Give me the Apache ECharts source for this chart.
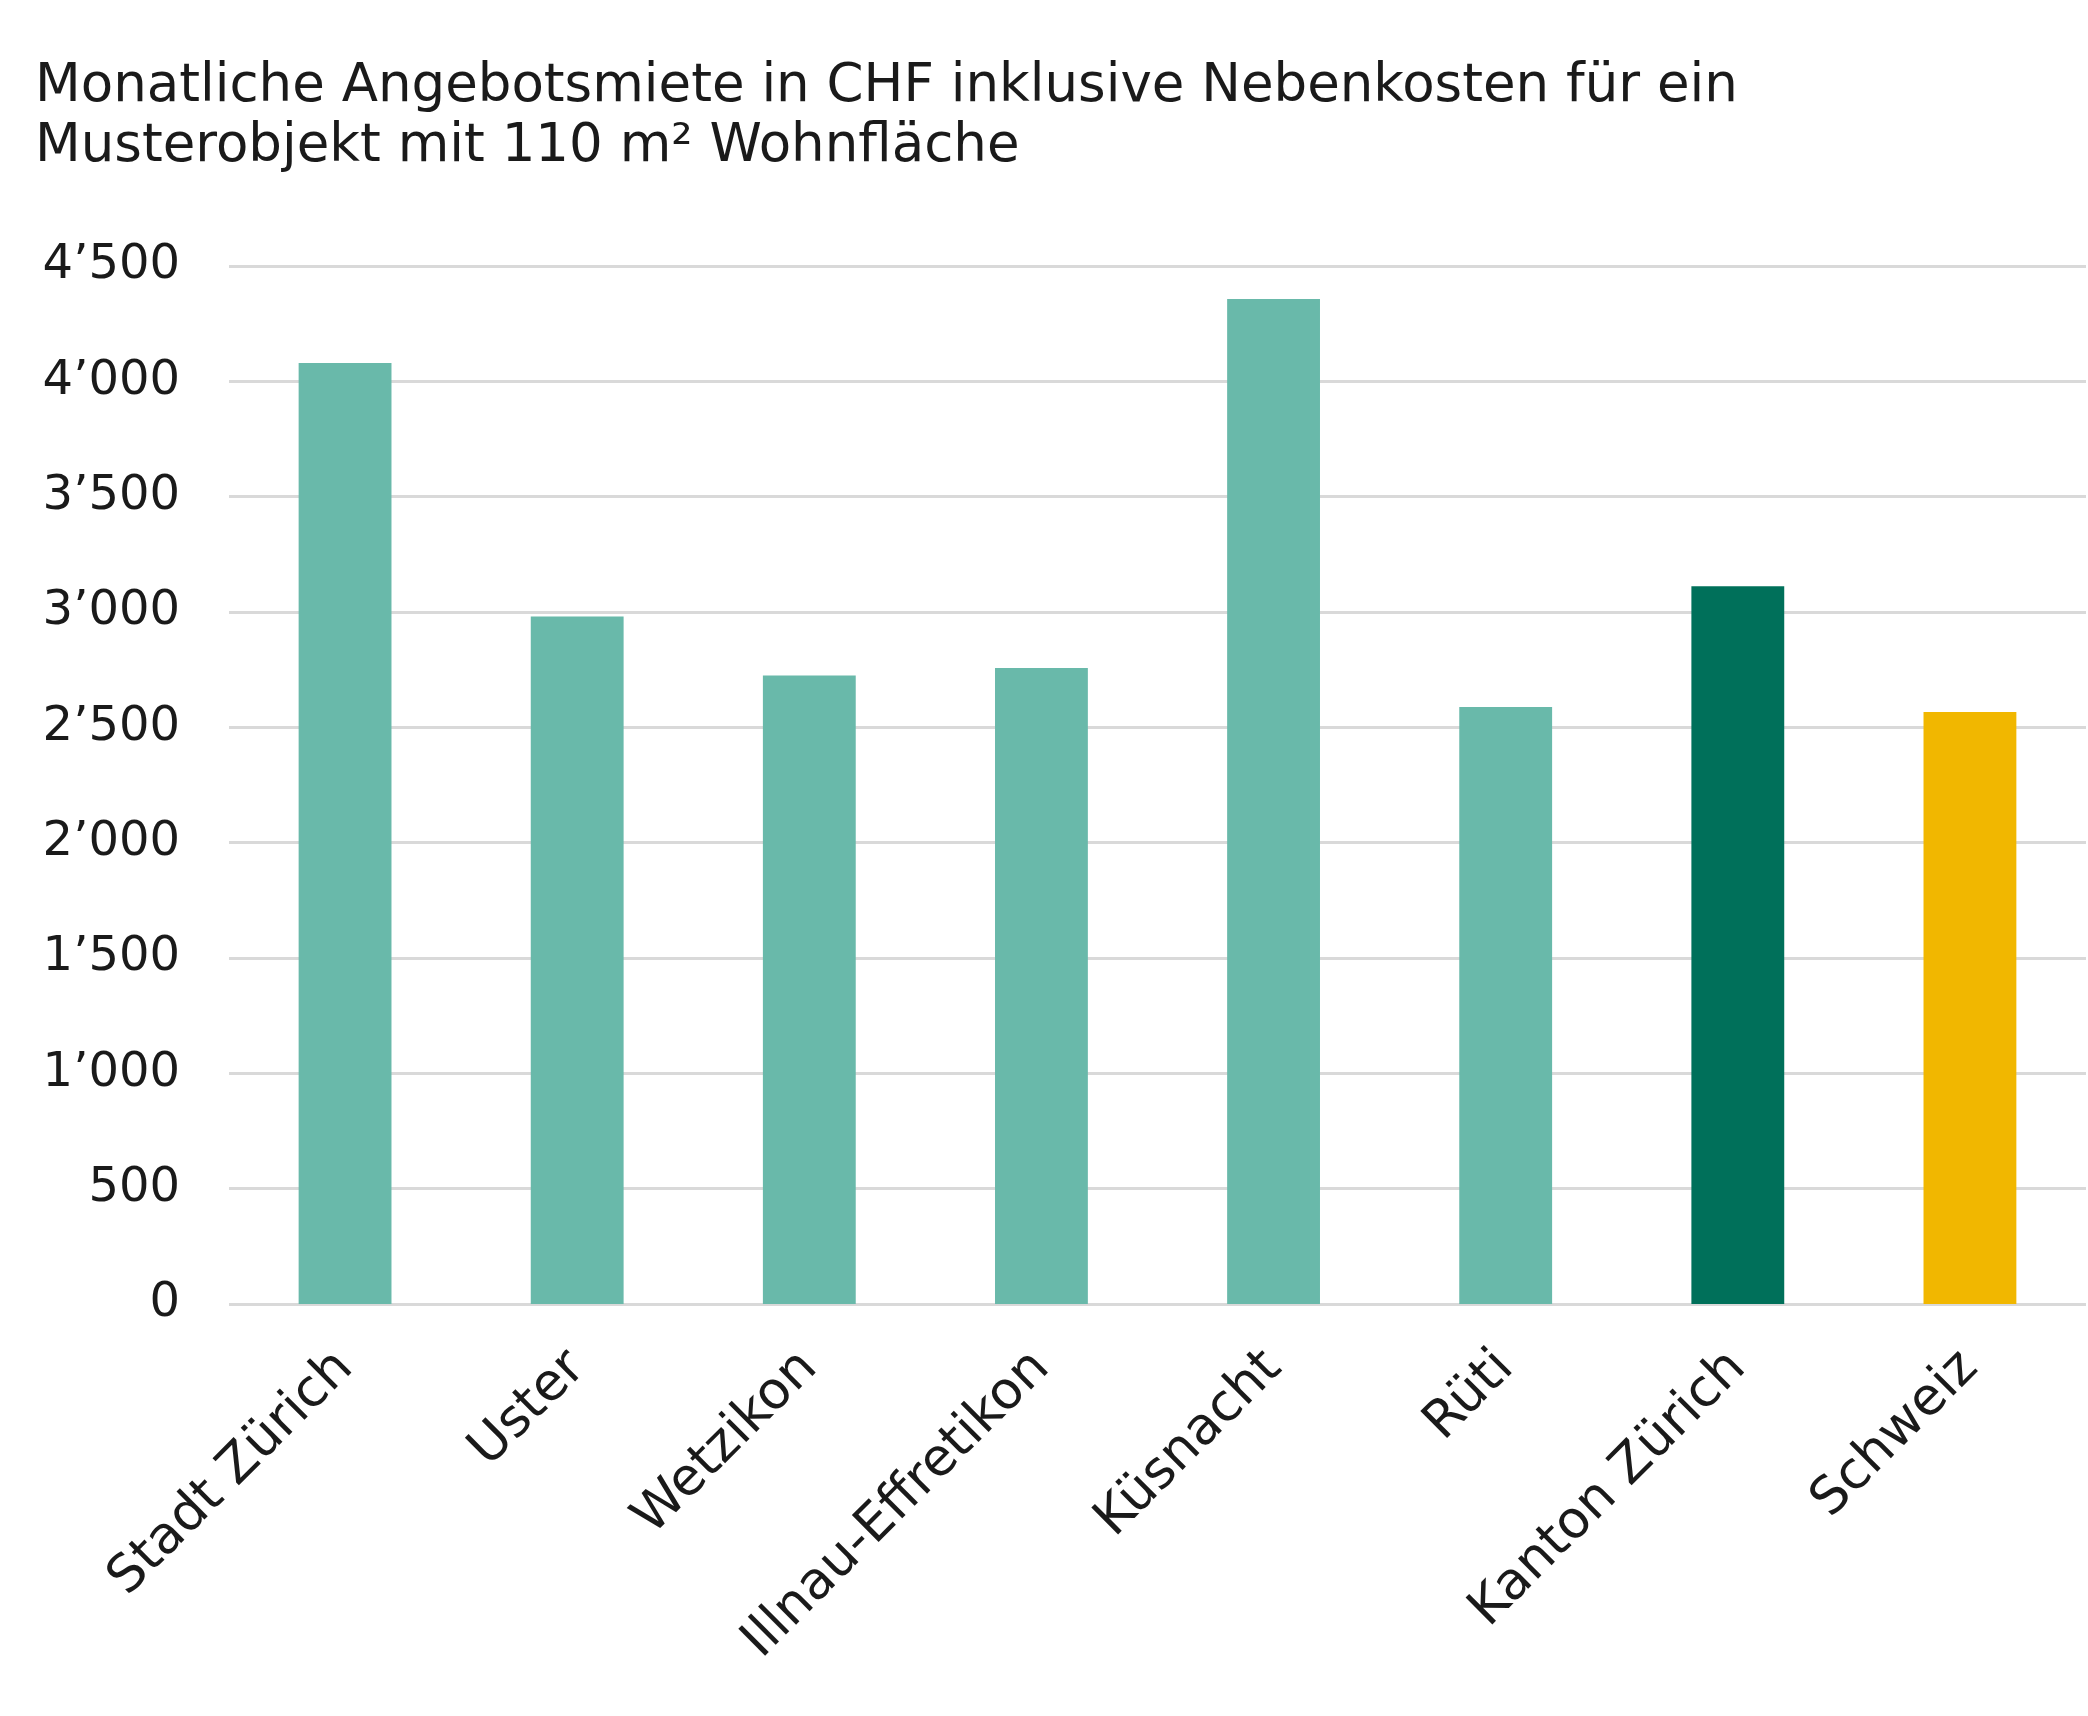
<!DOCTYPE html>
<html>
<head>
<meta charset="utf-8">
<style>
html,body{margin:0;padding:0;background:#fff;}
#chart{width:2088px;height:1716px;}
</style>
<script src="https://cdn.jsdelivr.net/npm/echarts@6/dist/echarts.min.js"></script>
</head>
<body>
<div id="chart"></div>
<script>
const categories = ['Stadt Zürich','Uster','Wetzikon','Illnau-Effretikon','Küsnacht','Rüti','Kanton Zürich','Schweiz'];
const values = [4080, 2980, 2725, 2757, 4357, 2588, 3112, 2566];
const barColors = ['#69b9aa','#69b9aa','#69b9aa','#69b9aa','#69b9aa','#69b9aa','#00705a','#f1b700'];
const titleLines = ['Monatliche Angebotsmiete in CHF inklusive Nebenkosten für ein','Musterobjekt mit 110 m² Wohnfläche'];
const yTicks = [0,500,1000,1500,2000,2500,3000,3500,4000,4500];

const FONT = 'DejaVu Sans';
const chart = echarts.init(document.getElementById('chart'), null, {renderer:'canvas'});
chart.setOption({
  animation:false,
  backgroundColor:'#ffffff',
  title:{
    text: titleLines.join('\n'),
    left: 30, top: 52,
    textStyle:{fontFamily:FONT, fontSize:53, fontWeight:'normal', color:'#1a1a1a', lineHeight:60}
  },
  grid:{left:229, right:2, top:266, bottom:412, containLabel:false},
  xAxis:{
    type:'category',
    data:categories,
    axisLine:{show:false},
    axisTick:{show:false},
    axisLabel:{rotate:45, interval:0, margin:56, fontFamily:FONT, fontSize:52, color:'#1a1a1a'}
  },
  yAxis:{
    type:'value',
    min:0, max:4500, interval:500,
    axisLine:{show:false},
    axisTick:{show:false},
    splitLine:{lineStyle:{color:'#d9d9d9', width:3}},
    axisLabel:{
      margin:49, fontFamily:FONT, fontSize:48, color:'#1a1a1a',
      formatter: v => String(v).replace(/\B(?=(\d{3})+(?!\d))/g, '\u2019')
    }
  },
  series:[{
    type:'bar',
    barWidth:'40%',
    data: values.map((v,i)=>({value:v, itemStyle:{color:barColors[i]}}))
  }]
});
</script>
</body>
</html>
